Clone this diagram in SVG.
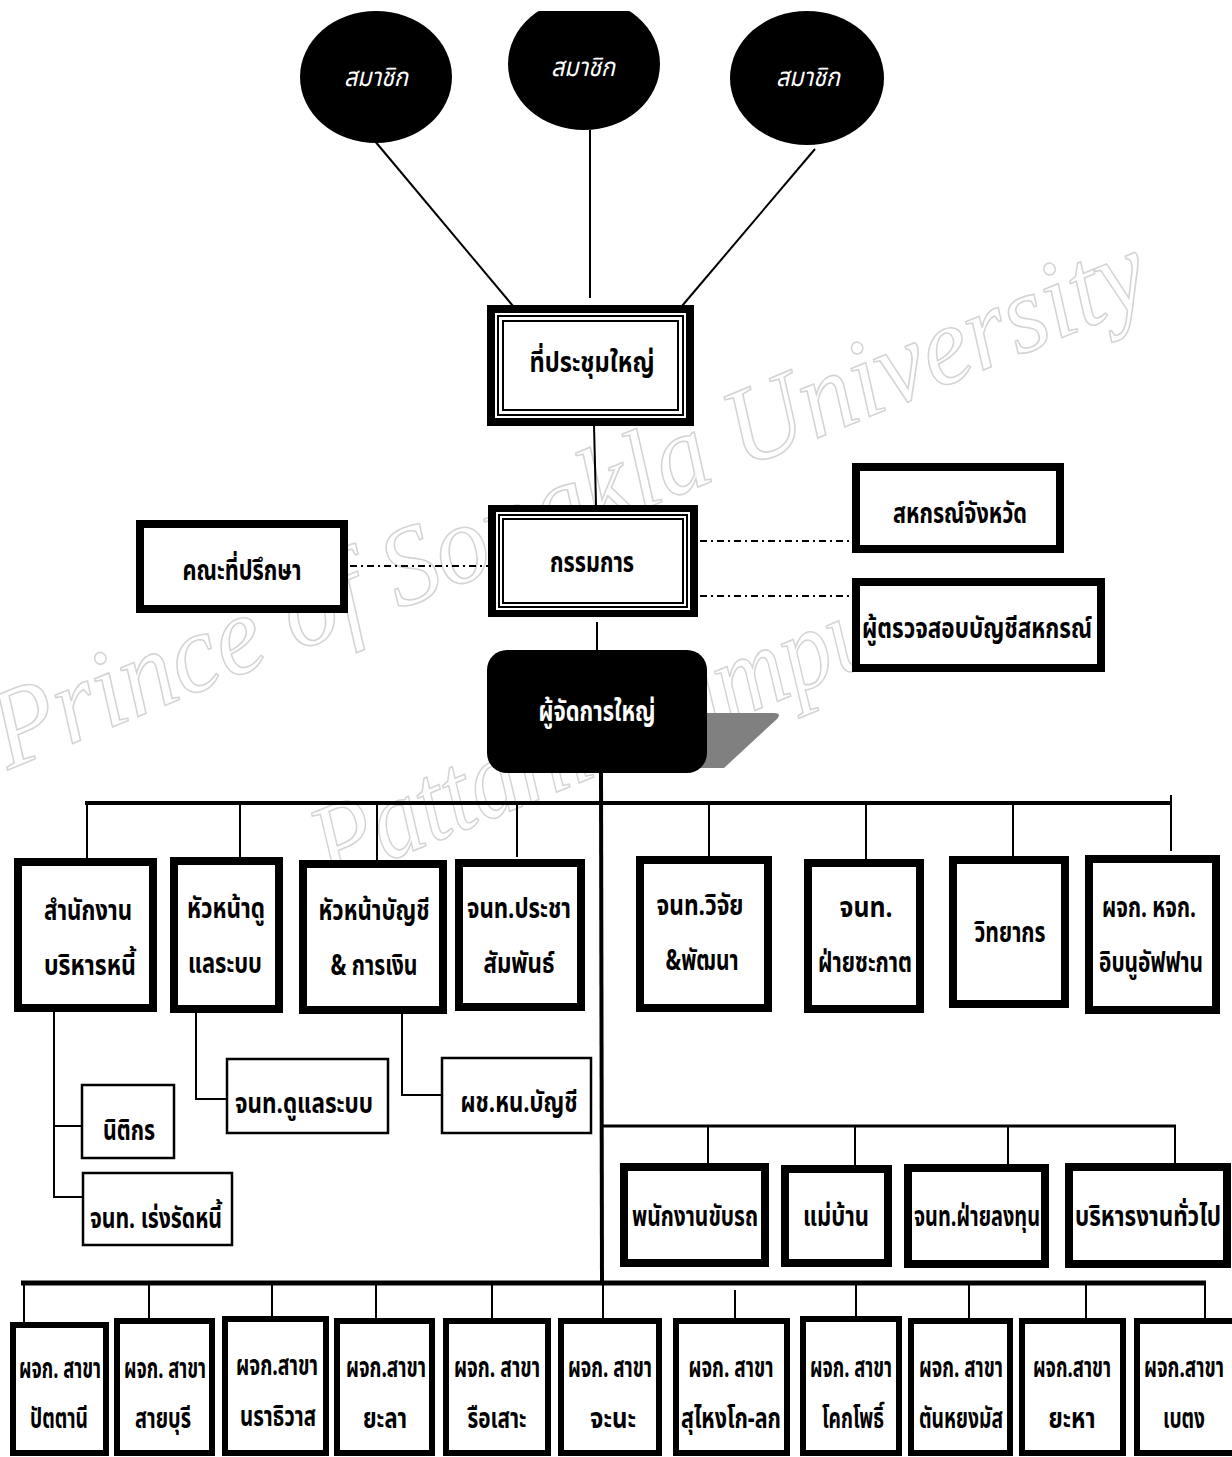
<svg xmlns="http://www.w3.org/2000/svg" width="1232" height="1457" viewBox="0 0 1232 1457">
<style>
text{font-family:"Noto Sans Thai","Noto Sans Thai UI","Loma","Garuda","Norasi","Liberation Sans",sans-serif;font-weight:bold;fill:#000;text-anchor:middle;font-size:28px}
.wm{font-family:"Liberation Serif",serif;font-style:italic;font-weight:normal;fill:none;stroke:#d4d4d4;stroke-width:1.6;font-size:112px;text-anchor:start}
.thick{fill:#fff;stroke:#000;stroke-width:8}
.mid{fill:#fff;stroke:#000;stroke-width:6}
.thin{fill:#fff;stroke:#000;stroke-width:2.5}
.ln{stroke:#000;stroke-width:2;fill:none}
.bar{stroke:#000;stroke-width:4;fill:none}
.dd{stroke:#000;stroke-width:2;fill:none;stroke-dasharray:7 4 2 4}
.wt{fill:#fff;font-style:italic;font-weight:normal;font-size:26px}
</style>
<rect width="1232" height="1457" fill="#fff"/>
<g id="watermark">
<text class="wm" transform="translate(8,770) rotate(-22.3)" textLength="1240" lengthAdjust="spacingAndGlyphs">Prince of Songkla University</text>
<text class="wm" transform="translate(330,885) rotate(-22.3)" textLength="640" lengthAdjust="spacingAndGlyphs">Pattani Campus</text>
</g>
<g id="connectors">
<line class="ln" x1="374" y1="140" x2="513" y2="306"/>
<line class="ln" x1="590" y1="130" x2="590" y2="298"/>
<line class="ln" x1="815" y1="149" x2="682" y2="306"/>
<line class="ln" x1="594" y1="425" x2="596" y2="505"/>
<line class="dd" x1="350" y1="566" x2="488" y2="566"/>
<line class="dd" x1="700" y1="541" x2="850" y2="541"/>
<line class="dd" x1="700" y1="596" x2="850" y2="596"/>
<line class="ln" x1="597" y1="622" x2="597" y2="652"/>
<line x1="601" y1="773" x2="602" y2="1285" stroke="#000" stroke-width="4"/>
<line class="bar" x1="85" y1="803" x2="1172" y2="803"/>
<line class="ln" x1="1171" y1="795" x2="1171" y2="851"/>
<line class="ln" x1="87" y1="803" x2="87" y2="860"/>
<line class="ln" x1="240" y1="803" x2="240" y2="857"/>
<line class="ln" x1="377" y1="803" x2="377" y2="860"/>
<line class="ln" x1="517" y1="803" x2="517" y2="857"/>
<line class="ln" x1="709" y1="803" x2="709" y2="856"/>
<line class="ln" x1="866" y1="803" x2="866" y2="859"/>
<line class="ln" x1="1013" y1="803" x2="1013" y2="856"/>
<polyline class="ln" points="54,1012 54,1197 82,1197"/>
<line class="ln" x1="54" y1="1126" x2="81" y2="1126"/>
<polyline class="ln" points="196,1013 196,1099 226,1099"/>
<polyline class="ln" points="402,1014 402,1095 441,1095"/>
<line x1="602" y1="1126" x2="1176" y2="1126" stroke="#000" stroke-width="3"/>
<line class="ln" x1="708" y1="1126" x2="708" y2="1163"/>
<line class="ln" x1="855" y1="1126" x2="855" y2="1165"/>
<line class="ln" x1="1008" y1="1126" x2="1008" y2="1164"/>
<line class="ln" x1="1175" y1="1126" x2="1175" y2="1163"/>
<line x1="21" y1="1283" x2="1206" y2="1283" stroke="#000" stroke-width="5"/>
<line class="ln" x1="24" y1="1283" x2="24" y2="1322"/>
<line class="ln" x1="149" y1="1283" x2="149" y2="1318"/>
<line class="ln" x1="272" y1="1283" x2="272" y2="1316"/>
<line class="ln" x1="376" y1="1283" x2="376" y2="1318"/>
<line class="ln" x1="492" y1="1283" x2="492" y2="1318"/>
<line class="ln" x1="603" y1="1283" x2="603" y2="1326"/>
<line class="ln" x1="735" y1="1290" x2="735" y2="1326"/>
<line class="ln" x1="856" y1="1283" x2="856" y2="1316"/>
<line class="ln" x1="969" y1="1283" x2="969" y2="1318"/>
<line class="ln" x1="1086" y1="1283" x2="1086" y2="1318"/>
<line class="ln" x1="1205" y1="1283" x2="1205" y2="1318"/>
</g>
<g id="member1"><ellipse cx="376" cy="77" rx="76" ry="66" fill="#000"/><text class="wt" x="376" y="86" textLength="64" lengthAdjust="spacingAndGlyphs">สมาชิก</text></g>
<g id="member2"><ellipse cx="584" cy="64" rx="76" ry="66" fill="#000"/><text class="wt" x="583" y="76" textLength="64" lengthAdjust="spacingAndGlyphs">สมาชิก</text></g>
<g id="member3"><ellipse cx="807" cy="78" rx="77" ry="67" fill="#000"/><text class="wt" x="808" y="86" textLength="64" lengthAdjust="spacingAndGlyphs">สมาชิก</text></g>
<rect x="0" y="0" width="1232" height="11" fill="#fff"/>
<g id="general-meeting">
<rect x="487" y="305" width="207" height="121" fill="#000"/>
<rect x="495" y="313" width="191" height="105" fill="#fff"/>
<rect x="498" y="316" width="185" height="99" fill="none" stroke="#000" stroke-width="2"/>
<rect x="503" y="321" width="175" height="89" fill="none" stroke="#000" stroke-width="2"/>
<text x="592" y="372" textLength="125" lengthAdjust="spacingAndGlyphs">ที่ประชุมใหญ่</text>
</g>
<g id="board">
<rect x="488" y="505" width="210" height="112" fill="#000"/>
<rect x="496" y="512" width="194" height="98" fill="#fff"/>
<rect x="499" y="515" width="188" height="92" fill="none" stroke="#000" stroke-width="2"/>
<rect x="503" y="519" width="180" height="84" fill="none" stroke="#000" stroke-width="2"/>
<text x="592" y="572" textLength="84" lengthAdjust="spacingAndGlyphs">กรรมการ</text>
</g>
<g id="advisors"><rect class="thick" x="140" y="524" width="204" height="85"/><text x="242" y="580" textLength="119" lengthAdjust="spacingAndGlyphs">คณะที่ปรึกษา</text></g>
<g id="provincial-coop"><rect class="thick" x="856" y="467" width="204" height="82"/><text x="960" y="523" textLength="134" lengthAdjust="spacingAndGlyphs">สหกรณ์จังหวัด</text></g>
<g id="auditor"><rect class="thick" x="856" y="582" width="245" height="86"/><text x="977" y="638" textLength="230" lengthAdjust="spacingAndGlyphs">ผู้ตรวจสอบบัญชีสหกรณ์</text></g>
<g id="general-manager">
<path d="M700,713 L774,713 Q782,713 777,719 L724,768 L700,768 Z" fill="#808080"/>
<rect x="487" y="650" width="220" height="123" rx="20" fill="#000"/>
<text x="597" y="721" style="fill:#fff" textLength="117" lengthAdjust="spacingAndGlyphs">ผู้จัดการใหญ่</text>
</g>
<g id="debt-office"><rect class="thick" x="18" y="862" width="135" height="146"/><text x="88" y="920" textLength="88" lengthAdjust="spacingAndGlyphs">สำนักงาน</text><text x="90" y="975" textLength="92" lengthAdjust="spacingAndGlyphs">บริหารหนี้</text></g>
<g id="it-head"><rect class="thick" x="174" y="861" width="105" height="148"/><text x="226" y="918" textLength="78" lengthAdjust="spacingAndGlyphs">หัวหน้าดู</text><text x="225" y="973" textLength="74" lengthAdjust="spacingAndGlyphs">แลระบบ</text></g>
<g id="acct-head"><rect class="thick" x="303" y="864" width="140" height="146"/><text x="374" y="920" textLength="111" lengthAdjust="spacingAndGlyphs">หัวหน้าบัญชี</text><text x="374" y="975" textLength="87" lengthAdjust="spacingAndGlyphs">&amp; การเงิน</text></g>
<g id="pr"><rect class="thick" x="459" y="863" width="122" height="144"/><text x="519" y="918" textLength="104" lengthAdjust="spacingAndGlyphs">จนท.ประชา</text><text x="519" y="973" textLength="71" lengthAdjust="spacingAndGlyphs">สัมพันธ์</text></g>
<g id="rnd"><rect class="thick" x="640" y="860" width="128" height="148"/><text x="700" y="915" textLength="87" lengthAdjust="spacingAndGlyphs">จนท.วิจัย</text><text x="702" y="970" textLength="73" lengthAdjust="spacingAndGlyphs">&amp;พัฒนา</text></g>
<g id="zakat"><rect class="thick" x="808" y="863" width="112" height="146"/><text x="866" y="917" textLength="53" lengthAdjust="spacingAndGlyphs">จนท.</text><text x="865" y="972" textLength="94" lengthAdjust="spacingAndGlyphs">ฝ่ายซะกาต</text></g>
<g id="lecturer"><rect class="thick" x="953" y="860" width="112" height="144"/><text x="1010" y="942" textLength="71" lengthAdjust="spacingAndGlyphs">วิทยากร</text></g>
<g id="ibnu"><rect class="thick" x="1089" y="859" width="127" height="151"/><text x="1149" y="917" textLength="94" lengthAdjust="spacingAndGlyphs">ผจก. หจก.</text><text x="1151" y="972" textLength="104" lengthAdjust="spacingAndGlyphs">อิบนูอัฟฟาน</text></g>
<g id="legal"><rect class="thin" x="82" y="1085" width="92" height="73"/><text x="129" y="1140" textLength="52" lengthAdjust="spacingAndGlyphs">นิติกร</text></g>
<g id="debt-collector"><rect class="thin" x="83" y="1173" width="149" height="72"/><text x="156" y="1228" textLength="132" lengthAdjust="spacingAndGlyphs">จนท. เร่งรัดหนี้</text></g>
<g id="it-staff"><rect class="thin" x="227" y="1059" width="161" height="74"/><text x="304" y="1113" textLength="138" lengthAdjust="spacingAndGlyphs">จนท.ดูแลระบบ</text></g>
<g id="acct-asst"><rect class="thin" x="442" y="1058" width="149" height="75"/><text x="519" y="1112" textLength="117" lengthAdjust="spacingAndGlyphs">ผช.หน.บัญชี</text></g>
<g id="driver"><rect class="thick" x="624" y="1167" width="141" height="96"/><text x="695" y="1226" textLength="126" lengthAdjust="spacingAndGlyphs">พนักงานขับรถ</text></g>
<g id="housekeeper"><rect class="thick" x="785" y="1169" width="103" height="94"/><text x="836" y="1226" textLength="66" lengthAdjust="spacingAndGlyphs">แม่บ้าน</text></g>
<g id="investment"><rect class="thick" x="908" y="1168" width="137" height="96"/><text x="977" y="1226" textLength="126" lengthAdjust="spacingAndGlyphs">จนท.ฝ่ายลงทุน</text></g>
<g id="admin"><rect class="thick" x="1069" y="1167" width="158" height="97"/><text x="1148" y="1226" textLength="146" lengthAdjust="spacingAndGlyphs">บริหารงานทั่วไป</text></g>
<g id="br-pattani"><rect class="mid" x="13" y="1325" width="93" height="128"/><text x="60" y="1378" textLength="82" lengthAdjust="spacingAndGlyphs">ผจก. สาขา</text><text x="59" y="1428" textLength="58" lengthAdjust="spacingAndGlyphs">ปัตตานี</text></g>
<g id="br-saiburi"><rect class="mid" x="117" y="1321" width="95" height="132"/><text x="165" y="1378" textLength="82" lengthAdjust="spacingAndGlyphs">ผจก. สาขา</text><text x="163" y="1428" textLength="56" lengthAdjust="spacingAndGlyphs">สายบุรี</text></g>
<g id="br-narathiwat"><rect class="mid" x="225" y="1319" width="101" height="134"/><text x="277" y="1375" textLength="82" lengthAdjust="spacingAndGlyphs">ผจก.สาขา</text><text x="278" y="1426" textLength="76" lengthAdjust="spacingAndGlyphs">นราธิวาส</text></g>
<g id="br-yala"><rect class="mid" x="337" y="1321" width="95" height="132"/><text x="386" y="1377" textLength="80" lengthAdjust="spacingAndGlyphs">ผจก.สาขา</text><text x="385" y="1428" textLength="44" lengthAdjust="spacingAndGlyphs">ยะลา</text></g>
<g id="br-rueso"><rect class="mid" x="446" y="1321" width="102" height="132"/><text x="497" y="1377" textLength="86" lengthAdjust="spacingAndGlyphs">ผจก. สาขา</text><text x="497" y="1428" textLength="59" lengthAdjust="spacingAndGlyphs">รือเสาะ</text></g>
<g id="br-chana"><rect class="mid" x="561" y="1321" width="98" height="132"/><text x="610" y="1377" textLength="84" lengthAdjust="spacingAndGlyphs">ผจก. สาขา</text><text x="613" y="1428" textLength="46" lengthAdjust="spacingAndGlyphs">จะนะ</text></g>
<g id="br-sungaikolok"><rect class="mid" x="676" y="1321" width="111" height="132"/><text x="731" y="1377" textLength="85" lengthAdjust="spacingAndGlyphs">ผจก. สาขา</text><text x="731" y="1428" textLength="100" lengthAdjust="spacingAndGlyphs">สุไหงโก-ลก</text></g>
<g id="br-khokpho"><rect class="mid" x="803" y="1319" width="96" height="134"/><text x="851" y="1377" textLength="82" lengthAdjust="spacingAndGlyphs">ผจก. สาขา</text><text x="853" y="1428" textLength="62" lengthAdjust="spacingAndGlyphs">โคกโพธิ์</text></g>
<g id="br-tanyongmat"><rect class="mid" x="911" y="1321" width="99" height="132"/><text x="961" y="1377" textLength="84" lengthAdjust="spacingAndGlyphs">ผจก. สาขา</text><text x="961" y="1428" textLength="84" lengthAdjust="spacingAndGlyphs">ตันหยงมัส</text></g>
<g id="br-yaha"><rect class="mid" x="1022" y="1321" width="101" height="132"/><text x="1072" y="1377" textLength="78" lengthAdjust="spacingAndGlyphs">ผจก.สาขา</text><text x="1072" y="1428" textLength="47" lengthAdjust="spacingAndGlyphs">ยะหา</text></g>
<g id="br-betong"><rect class="mid" x="1137" y="1321" width="98" height="132"/><text x="1184" y="1377" textLength="80" lengthAdjust="spacingAndGlyphs">ผจก.สาขา</text><text x="1184" y="1428" textLength="42" lengthAdjust="spacingAndGlyphs">เบตง</text></g>
</svg>
